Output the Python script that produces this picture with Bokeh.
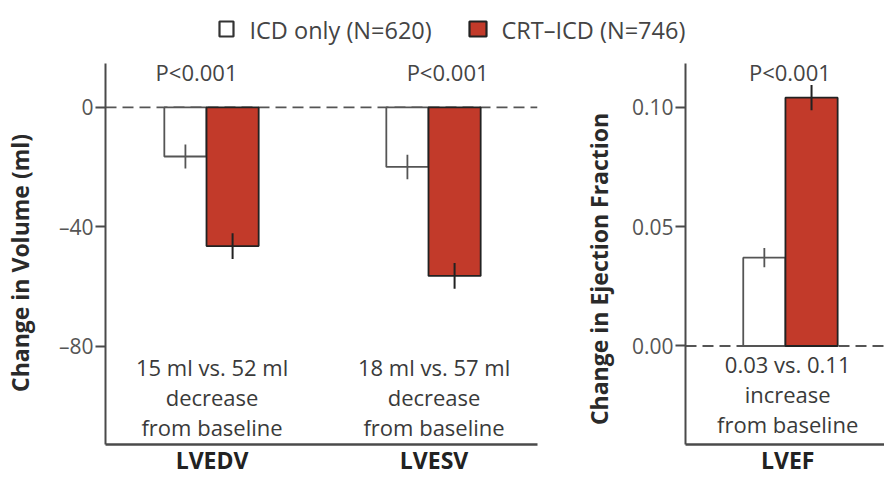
from bokeh.plotting import figure
from bokeh.layouts import column, row
from bokeh.models import Span, FixedTicker, Range1d
from bokeh.core.properties import value
from bokeh.embed import file_html
from bokeh.resources import INLINE

# ---------------- data ----------------
vol_groups = ["LVEDV", "LVESV"]
vol_icd = [-16.5, -20.0]
vol_crt = [-46.5, -56.5]
vol_icd_err = [4.0, 4.1]
vol_crt_err = [4.3, 4.3]
vol_ticks = [0, -40, -80]
vol_tick_labels = ["0", "\u201340", "\u201380"]
vol_notes = [["15 ml vs. 52 ml", "decrease", "from baseline"],
             ["18 ml vs. 57 ml", "decrease", "from baseline"]]

ef_groups = ["LVEF"]
ef_icd = [0.037]
ef_crt = [0.104]
ef_icd_err = [0.004]
ef_crt_err = [0.0053]
ef_ticks = [0.0, 0.05, 0.10]
ef_tick_labels = ["0.00", "0.05", "0.10"]
ef_notes = [["0.03 vs. 0.11", "increase", "from baseline"]]

p_text = "P<0.001"
legend_labels = ["ICD only (N=620)", "CRT\u2013ICD (N=746)"]
vol_ylabel = "Change in Volume (ml)"
ef_ylabel = "Change in Ejection Fraction"

# ---------------- style ----------------
FONT = "Open Sans"
RED = "#c23a2a"
AX = "#4a4a4a"
TXT = "#3a3a3a"
W_ICD = 0.19
W_CRT = 0.235
NB = "\u00a0"


def style_axes(p, ylabel, ticks, labels, label_standoff):
    p.outline_line_color = None
    p.grid.visible = False
    p.background_fill_color = "white"
    p.border_fill_color = "white"
    ya = p.yaxis[0]
    ya.ticker = FixedTicker(ticks=ticks)
    ya.major_label_overrides = {t: l for t, l in zip(ticks, labels)}
    ya.axis_label = ylabel
    ya.axis_label_text_font = FONT
    ya.axis_label_text_font_style = "bold"
    ya.axis_label_text_font_size = "23px"
    ya.axis_label_text_color = "#2a2a2a"
    ya.axis_label_standoff = label_standoff
    ya.major_label_text_font = FONT
    ya.major_label_text_font_size = "21px"
    ya.major_label_text_color = "#555555"
    ya.major_label_standoff = 2
    ya.major_tick_out = 10
    ya.major_tick_in = 0
    ya.minor_tick_out = 0
    ya.minor_tick_in = 0
    ya.axis_line_color = AX
    ya.axis_line_width = 2
    ya.major_tick_line_color = AX
    ya.major_tick_line_width = 2
    xa = p.xaxis[0]
    xa.axis_line_color = AX
    xa.axis_line_width = 2.5
    xa.major_tick_out = 0
    xa.major_tick_in = 0
    xa.minor_tick_out = 0
    xa.minor_tick_in = 0
    xa.major_label_text_font = FONT
    xa.major_label_text_font_style = "bold"
    xa.major_label_text_font_size = "23px"
    xa.major_label_text_color = "#222222"
    xa.major_label_standoff = -1


def draw_panel(p, groups, icd, crt, icd_err, crt_err, notes, note_y, p_y, p_off, tick_off):
    pos = list(range(len(groups)))
    p.add_layout(Span(location=0, dimension="width", line_color="#555555",
                      line_width=1.8, line_dash="11 6", level="underlay"))
    p.quad(left=[g - W_ICD for g in pos], right=pos, bottom=0, top=icd,
           fill_color="white", line_color="#555555", line_width=1.8)
    p.quad(left=pos, right=[g + W_CRT for g in pos], bottom=0, top=crt,
           fill_color=RED, line_color="#222222", line_width=1.8)
    xi = [g - W_ICD / 2 for g in pos]
    xc = [g + W_CRT / 2 for g in pos]
    p.segment(x0=xi, x1=xi, y0=[v - e for v, e in zip(icd, icd_err)],
              y1=[v + e for v, e in zip(icd, icd_err)], line_color="#555555", line_width=1.8)
    p.segment(x0=xc, x1=xc, y0=[v - e for v, e in zip(crt, crt_err)],
              y1=[v + e for v, e in zip(crt, crt_err)], line_color="#222222", line_width=2)
    xs, ys, ts = [], [], []
    for g, lines in zip(pos, notes):
        for k, line in enumerate(lines):
            xs.append(g + tick_off)
            ys.append(note_y[k])
            ts.append(line)
    p.text(x=xs, y=ys, text=ts, text_font=value(FONT), text_font_size="22px",
           text_color=TXT, text_align="center", text_baseline="middle")
    p.text(x=[g + o for g, o in zip(pos, p_off)], y=[p_y] * len(pos), text=[p_text] * len(pos),
           text_font=value(FONT), text_font_size="22px", text_color="#444444",
           text_align="center", text_baseline="middle")
    xa = p.xaxis[0]
    xa.ticker = FixedTicker(ticks=[g + tick_off for g in pos])
    xa.major_label_overrides = {g + tick_off: name for g, name in zip(pos, groups)}


# ---------------- legend strip ----------------
leg = figure(width=884, height=50, x_range=Range1d(0, 884), y_range=Range1d(50, 0),
             toolbar_location=None, output_backend="svg", min_border=0)
leg.axis.visible = False
leg.grid.visible = False
leg.outline_line_color = None
leg.quad(left=[219, 469], right=[233, 486], top=[21, 21], bottom=[36, 36],
         fill_color=["white", RED], line_color=["#333333", "#222222"], line_width=2.2)
leg.text(x=[249, 501], y=[29, 29], text=legend_labels, text_font=value(FONT),
         text_font_size="23.5px", text_color="#444444", text_baseline="middle")

# ---------------- left panel ----------------
left = figure(width=570, height=428, x_range=Range1d(-0.455, 1.491), y_range=Range1d(-113, 14.67),
              toolbar_location=None, output_backend="svg",
              min_border_left=105, min_border_right=33, min_border_top=13, min_border_bottom=32)
style_axes(left, vol_ylabel + NB * 3, vol_ticks, vol_tick_labels, 20)
draw_panel(left, vol_groups, vol_icd, vol_crt, vol_icd_err, vol_crt_err, vol_notes,
           note_y=[-87.0, -97.0, -107.0], p_y=11.7, p_off=[-0.045, 0.086], tick_off=0.025)

# ---------------- right panel ----------------
right = figure(width=314, height=428, x_range=Range1d(-0.45, 0.446), y_range=Range1d(-0.04125, 0.1183),
               toolbar_location=None, output_backend="svg",
               min_border_left=115, min_border_right=0, min_border_top=13, min_border_bottom=32)
style_axes(right, ef_ylabel + NB * 5, ef_ticks, ef_tick_labels, 14)
draw_panel(right, ef_groups, ef_icd, ef_crt, ef_icd_err, ef_crt_err, ef_notes,
           note_y=[-0.0075, -0.02, -0.0325], p_y=0.1146, p_off=[0.02], tick_off=0.01)

layout = column(leg, row(left, right, spacing=0), spacing=0)
open("out.html", "w").write(file_html(layout, INLINE))
